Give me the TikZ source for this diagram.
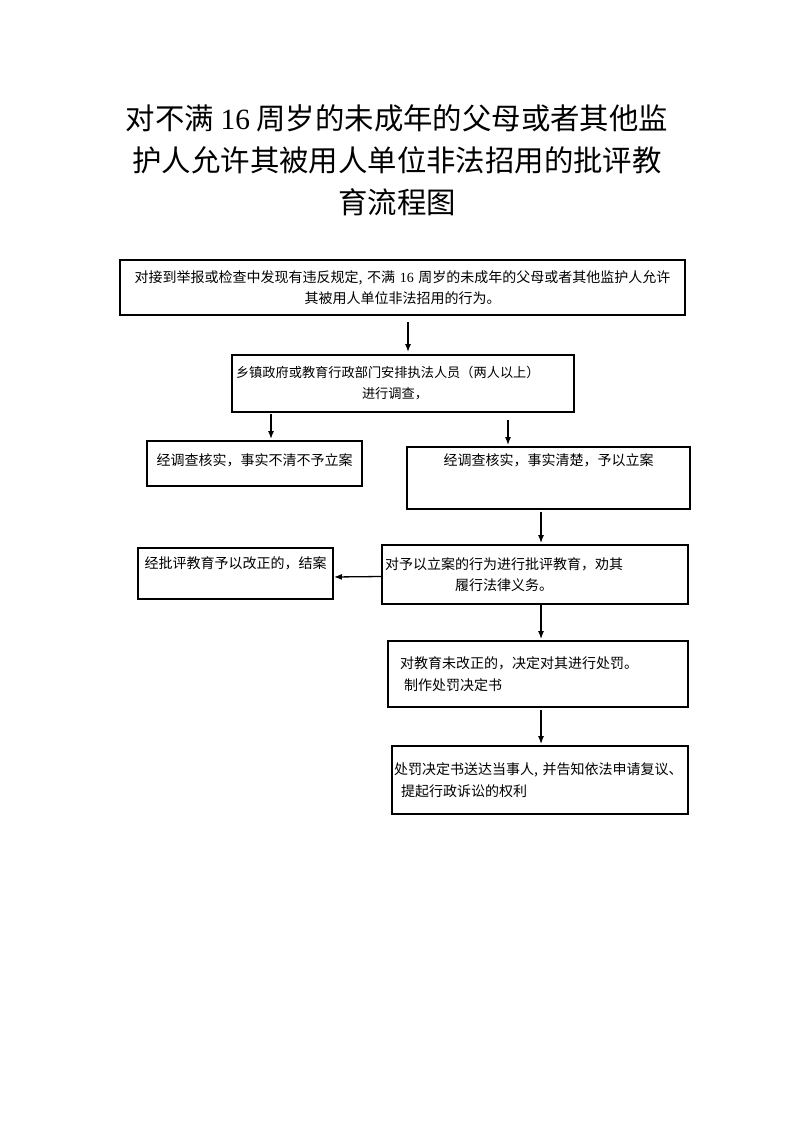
\documentclass[tikz,border=0pt]{standalone}
\usepackage{fontspec}
\setmainfont{Noto Sans CJK SC}
\newfontfamily\lat{Liberation Serif}
\usetikzlibrary{arrows.meta}

\tikzset{
  box/.style={draw, line width=1.8pt, inner sep=0pt, font=\fontsize{14}{21.5}\selectfont},
  arr/.style={line width=1.3pt, -{Latex[length=8pt,width=6pt]}}
}

\begin{document}
\begin{tikzpicture}[x=1pt,y=-1pt]
\useasboundingbox (0,0) rectangle (793,1122);

% Title
\node (title) at (397,160) [font=\fontsize{29.4}{42}\selectfont, align=center]
  {对不满 {\lat 16} 周岁的未成年的父母或者其他监\\护人允许其被用人单位非法招用的批评教\\育流程图};

% Report and investigation
\node[box, minimum width=565pt, minimum height=55pt, text width=545pt, align=center] (report) at (402.5,287.5)
  {对接到举报或检查中发现有违反规定, 不满 {\lat 16} 周岁的未成年的父母或者其他监护人允许\\其被用人单位非法招用的行为。};
\node[box, font=\fontsize{13.2}{21}\selectfont, minimum width=342pt, minimum height=57pt, text width=334pt, align=left] (survey) at (403,383.5)
  {乡镇政府或教育行政部门安排执法人员（两人以上）\\\hspace*{126pt}进行调查，};

% Two outcomes
\node[box, minimum width=215pt, minimum height=45pt, text height=12pt, text depth=8.4pt, align=center] (noCase) at (254.5,463.5)
  {经调查核实，事实不清不予立案};
\node[box, minimum width=283pt, minimum height=62pt, text height=12pt, text depth=37.4pt, align=center] (fileCase) at (548.5,478)
  {经调查核实，事实清楚，予以立案};

% Education
\node[box, minimum width=306pt, minimum height=59pt, text width=300pt, align=left] (educate) at (535,574.5)
  {对予以立案的行为进行批评教育，劝其\\\hspace*{70pt}履行法律义务。};
\node[box, minimum width=195pt, minimum height=51pt, text height=12pt, text depth=22.4pt, align=center] (closeCase) at (235.5,573.5)
  {经批评教育予以改正的，结案};

% Penalty
\node[box, minimum width=300pt, minimum height=66pt, text width=276pt, align=left] (penalty) at (538,674)
  {对教育未改正的，决定对其进行处罚。\\\hspace*{4pt}制作处罚决定书};
\node[box, minimum width=296pt, minimum height=68pt, text width=292pt, align=left] (deliver) at (540,780)
  {处罚决定书送达当事人, 并告知依法申请复议、\\\hspace*{7pt}提起行政诉讼的权利};

% Arrows
\draw[arr, shorten <=6pt, shorten >=2pt] ([xshift=5.5pt]report.south) -- ([xshift=5pt]survey.north);
\draw[arr, shorten <=1pt, shorten >=1pt] ([xshift=-132pt]survey.south) -- ([xshift=16.5pt]noCase.north);
\draw[arr, shorten <=7pt, shorten >=1pt] ([xshift=105pt]survey.south) -- ([xshift=-40.5pt]fileCase.north);
\draw[arr, shorten <=2pt, shorten >=1pt] ([xshift=-7.5pt]fileCase.south) -- ([xshift=6pt]educate.north);
\draw[arr] ([yshift=-2pt]educate.west) -- ([yshift=-3.5pt]closeCase.east);
\draw[arr, shorten >=1pt] ([xshift=6pt]educate.south) -- ([xshift=3pt]penalty.north);
\draw[arr, shorten <=2pt, shorten >=1pt] ([xshift=3pt]penalty.south) -- ([xshift=1pt]deliver.north);
\end{tikzpicture}
\end{document}
